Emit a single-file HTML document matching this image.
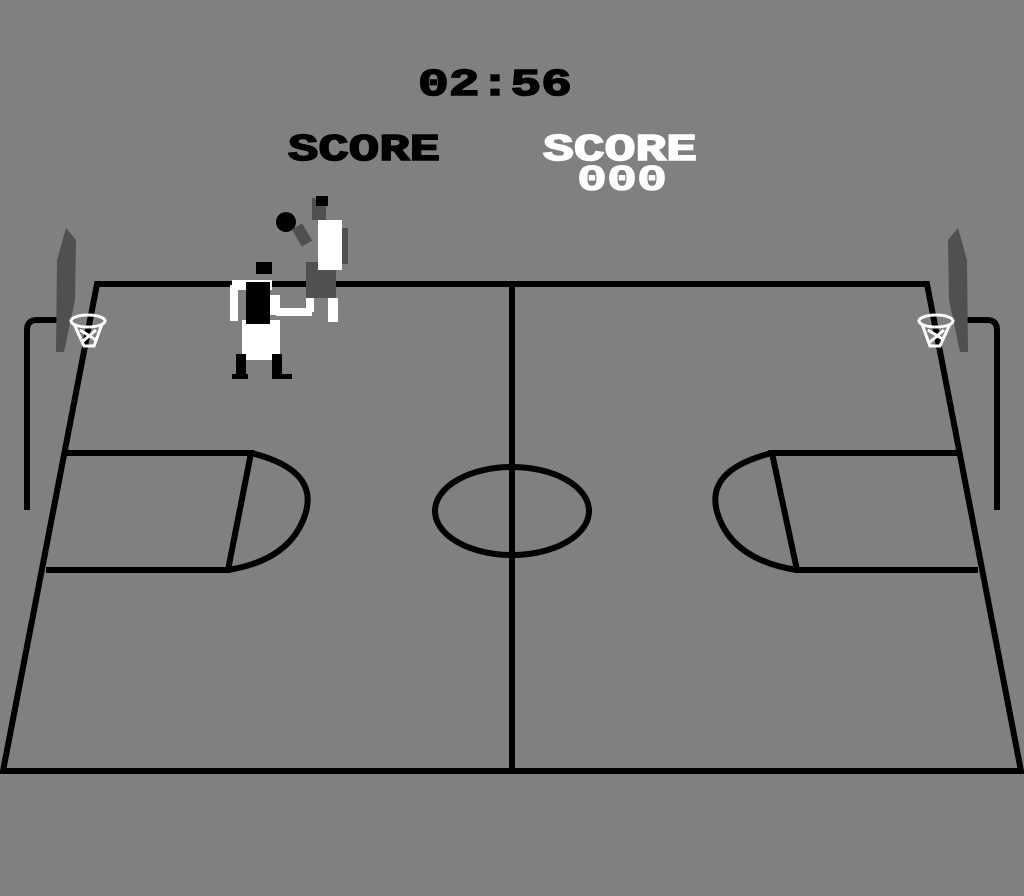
<!DOCTYPE html>
<html><head><style>
html,body{margin:0;padding:0;background:#808080;width:1024px;height:896px;overflow:hidden}
svg{display:block}
text{font-family:"Liberation Mono",monospace;font-weight:bold}
</style></head><body>
<svg width="1024" height="896" viewBox="0 0 1024 896" xmlns="http://www.w3.org/2000/svg">
<rect width="1024" height="896" fill="#808080"/>
<text x="495" y="95" font-size="38" text-anchor="middle" fill="#000" stroke="#000" stroke-width="1.5" textLength="154" lengthAdjust="spacingAndGlyphs">02:56</text>
<text x="364" y="160" font-size="38" text-anchor="middle" fill="#000" stroke="#000" stroke-width="1.5" textLength="152" lengthAdjust="spacingAndGlyphs">SCORE</text>
<text x="620" y="160" font-size="38" text-anchor="middle" fill="#fff" stroke="#fff" stroke-width="1.5" textLength="154" lengthAdjust="spacingAndGlyphs">SCORE</text>
<text x="622" y="190" font-size="36" text-anchor="middle" fill="#fff" stroke="#fff" stroke-width="1" textLength="90" lengthAdjust="spacingAndGlyphs">000</text>
<g stroke="#000" stroke-width="6" fill="none">
<path d="M3 771 L97 284 L927 284 L1021 771 Z"/>
<line x1="512" y1="284" x2="512" y2="771"/>
<ellipse cx="512" cy="511" rx="77" ry="44"/>
<path d="M66 453 L251 453 L228 570 L46 570"/>
<path d="M251 453 Q320 470 305 515 Q290 560 228 570"/>
<path d="M958 453 L772 453 L797 570 L978 570"/>
<path d="M772 453 Q703 470 718 515 Q733 560 797 570"/>
<path d="M27 510 L27 330 Q27 320 37 320 L58 320"/>
<path d="M997 510 L997 330 Q997 320 987 320 L966 320"/>
</g>
<path d="M56 352 L57 260 L66 228 L76 240 L75 300 L64 352 Z" fill="#505050"/>
<path d="M968 352 L967 260 L958 228 L948 240 L949 300 L960 352 Z" fill="#505050"/>
<g stroke="#fff" stroke-width="3" fill="none">
<ellipse cx="88" cy="321" rx="17" ry="6"/>
<path d="M74 324 L84 346 L94 346 L102 324 M80 330 L96 340 M96 330 L82 342"/>
<ellipse cx="936" cy="321" rx="17" ry="6"/>
<path d="M922 324 L930 346 L940 346 L950 324 M928 330 L944 340 M944 330 L930 342"/>
</g>
<circle cx="286" cy="222" r="10" fill="#000"/>
<g fill="#505050">
<rect x="312" y="198" width="14" height="22"/>
<rect x="296" y="225" width="12" height="20" transform="rotate(-30 302 235)"/>
<rect x="340" y="228" width="8" height="36"/>
<rect x="306" y="262" width="30" height="36"/>
</g>
<rect x="316" y="196" width="12" height="10" fill="#000"/>
<rect x="318" y="220" width="24" height="50" fill="#fff"/>
<rect x="328" y="298" width="10" height="24" fill="#fff"/>
<rect x="306" y="298" width="8" height="14" fill="#fff"/>
<g fill="#fff">
<rect x="232" y="280" width="40" height="10"/>
<rect x="230" y="285" width="8" height="36"/>
<rect x="270" y="295" width="10" height="20"/>
<rect x="276" y="308" width="36" height="8"/>
<rect x="242" y="320" width="38" height="40"/>
</g>
<rect x="256" y="262" width="16" height="12" fill="#000"/>
<rect x="246" y="282" width="24" height="42" fill="#000"/>
<rect x="236" y="354" width="10" height="24" fill="#000"/>
<rect x="272" y="354" width="10" height="24" fill="#000"/>
<rect x="232" y="374" width="16" height="5" fill="#000"/>
<rect x="272" y="374" width="20" height="5" fill="#000"/>
</svg>
</body></html>
